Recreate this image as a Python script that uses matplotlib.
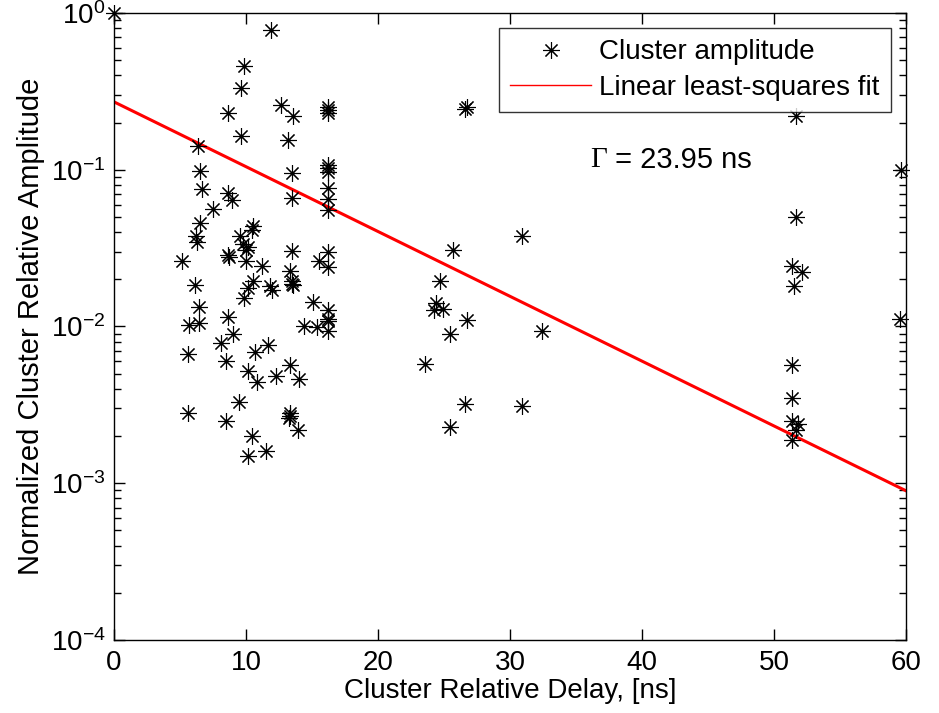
import matplotlib
matplotlib.use("Agg")
import matplotlib.pyplot as plt
from matplotlib.ticker import LogLocator, FixedLocator, NullFormatter

plt.rcParams["font.family"] = ["Liberation Sans", "DejaVu Sans"]
plt.rcParams["mathtext.fontset"] = "custom"
plt.rcParams["mathtext.rm"] = "Liberation Sans"
plt.rcParams["mathtext.it"] = "Liberation Sans:italic"

# cluster delays [ns] and normalized amplitudes
delay_ns = [
    0.0, 11.92, 9.87, 9.62, 12.63, 8.64, 13.58, 16.2, 16.2, 16.2,
    9.62, 13.16, 6.39, 6.52, 13.46, 16.2, 16.2, 16.2, 6.69, 16.2,
    8.64, 8.94, 13.46, 16.2, 7.52, 16.2, 6.52, 10.55, 10.43, 6.19,
    9.55, 6.26, 9.8, 10.17, 9.97, 13.46, 16.2, 8.66, 8.71, 5.15,
    9.97, 15.5, 11.24, 16.2, 13.33, 13.46, 13.46, 13.55, 10.55, 6.14,
    11.82, 11.94, 10.13, 9.85, 15.1, 6.44, 16.2, 8.64, 16.2, 16.2,
    6.42, 5.68, 14.42, 15.35, 16.2, 9.04, 8.08, 11.69, 10.68, 5.58,
    8.46, 13.33, 10.17, 12.27, 10.86, 14.04, 9.49, 5.58, 13.33, 13.33,
    13.28, 8.46, 13.92, 10.43, 10.17, 11.52,
    26.77, 26.6, 30.9, 25.65, 24.7, 24.39, 24.27, 24.95, 26.77, 25.45,
    32.45, 23.56, 26.62, 30.91, 25.45,
    51.67, 59.65, 51.67, 51.39, 52.1, 51.54, 59.55, 51.39, 51.39, 51.39,
    51.84, 51.64, 51.39,
]
amplitude = [
    1.0, 0.78, 0.46, 0.33, 0.258, 0.231, 0.22, 0.252, 0.24, 0.229,
    0.164, 0.154, 0.141, 0.098, 0.096, 0.107, 0.102, 0.097, 0.075, 0.077,
    0.071, 0.064, 0.066, 0.0655, 0.056, 0.055, 0.046, 0.0435, 0.0415, 0.0376,
    0.0376, 0.0346, 0.0337, 0.0321, 0.0306, 0.0301, 0.0298, 0.0287, 0.0277, 0.0263,
    0.0263, 0.0263, 0.0242, 0.0239, 0.0225, 0.0195, 0.0187, 0.0183, 0.0195, 0.0185,
    0.018, 0.017, 0.0176, 0.0152, 0.0143, 0.0134, 0.0128, 0.0115, 0.0112, 0.0108,
    0.0106, 0.0102, 0.0101, 0.0099, 0.0094, 0.009, 0.0078, 0.0076, 0.0069, 0.0067,
    0.006, 0.0057, 0.0052, 0.0048, 0.0044, 0.0046, 0.0033, 0.0028, 0.0028, 0.0027,
    0.0026, 0.0025, 0.0022, 0.002, 0.0015, 0.0016,
    0.25, 0.245, 0.038, 0.0306, 0.0195, 0.0142, 0.0128, 0.013, 0.011, 0.009,
    0.0094, 0.0058, 0.0032, 0.0031, 0.0023,
    0.22, 0.1, 0.05, 0.0244, 0.0222, 0.018, 0.0111, 0.0057, 0.0035, 0.0025,
    0.0024, 0.0022, 0.0019,
]

# least-squares fit line end points
fit_delay = [0.0, 60.0]
fit_amp = [0.271, 0.000895]
gamma_ns = 23.95

fig = plt.figure(figsize=(9.39, 7.13), dpi=100)
ax = fig.add_axes([0.1214, 0.1024, 0.8435, 0.8794])

ax.plot(delay_ns, amplitude, linestyle="none", marker=(8, 2, 0), markersize=12,
        markeredgewidth=0.8, color="black", label="Cluster amplitude",
        clip_on=False, zorder=3)
ax.plot(fit_delay, fit_amp, color="red", linewidth=2.2,
        label="Linear least-squares fit")

ax.set_yscale("log")
ax.set_xlim(0, 60)
ax.set_ylim(1e-4, 1)
ax.xaxis.set_major_locator(FixedLocator([0, 10, 20, 30, 40, 50, 60]))
ax.yaxis.set_major_locator(LogLocator(base=10, numticks=10))
ax.yaxis.set_minor_locator(LogLocator(base=10, subs=range(2, 10), numticks=10))
ax.yaxis.set_minor_formatter(NullFormatter())

ax.tick_params(which="both", direction="in", top=True, right=True,
               labelsize=20, width=1.0)
ax.tick_params(which="major", length=8)
ax.tick_params(which="minor", length=5)
ax.tick_params(axis="x", pad=7)
ax.tick_params(axis="y", pad=6)
for s in ax.spines.values():
    s.set_linewidth(1.0)

ax.set_xlabel("Cluster Relative Delay, [ns]", fontsize=20, labelpad=2)
ax.set_ylabel("Normalized Cluster Relative Amplitude", fontsize=21, labelpad=4)

# Gamma in a serif face, the rest in the sans face
g = ax.text(36.1, 0.115, "\u0393", fontsize=21, family="Liberation Serif",
            ha="left", va="center")
ax.annotate(" = %.2f ns" % gamma_ns, xy=(1, 0.5), xycoords=g, fontsize=21,
            ha="left", va="center")

leg = ax.legend(loc="upper right", fontsize=20, frameon=True, fancybox=False,
                edgecolor="black", borderaxespad=0.55, handlelength=2.9,
                handletextpad=0.3, borderpad=0.4, labelspacing=0.35)
leg.get_frame().set_linewidth(1.0)
leg.legend_handles[1].set_linewidth(1.0)

fig.savefig("out.png", dpi=100)
